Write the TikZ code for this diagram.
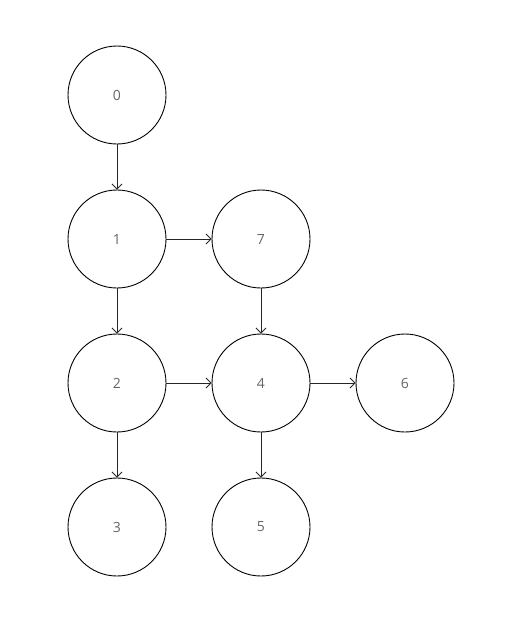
\documentclass[tikz,border=0pt]{standalone}
\usepackage{fontspec}
\setmainfont{Open Sans}
\usetikzlibrary{arrows.meta}
\begin{document}
\begin{tikzpicture}[x=1pt,y=-1pt,
  vtx/.style={circle,draw=black,line width=0.9pt,minimum size=98pt,inner sep=0pt,text=black!60,font=\fontsize{14}{16}\selectfont},
  edge/.style={draw=black!85,line width=0.9pt,-{Straight Barb[length=5pt,width=10pt]}}]
\useasboundingbox (0,0) rectangle (513,625);
\node[vtx] (n0) at (117,95) {0};
\node[vtx] (n1) at (117,239) {1};
\node[vtx] (n7) at (261,239) {7};
\node[vtx] (n2) at (117,383) {2};
\node[vtx] (n4) at (261,383) {4};
\node[vtx] (n6) at (405,383) {6};
\node[vtx] (n3) at (117,527) {3};
\node[vtx] (n5) at (261,527) {5};
\draw[edge] (n0) -- (n1);
\draw[edge] (n1) -- (n7);
\draw[edge] (n1) -- (n2);
\draw[edge] (n7) -- (n4);
\draw[edge] (n2) -- (n4);
\draw[edge] (n4) -- (n6);
\draw[edge] (n2) -- (n3);
\draw[edge] (n4) -- (n5);
\end{tikzpicture}
\end{document}
